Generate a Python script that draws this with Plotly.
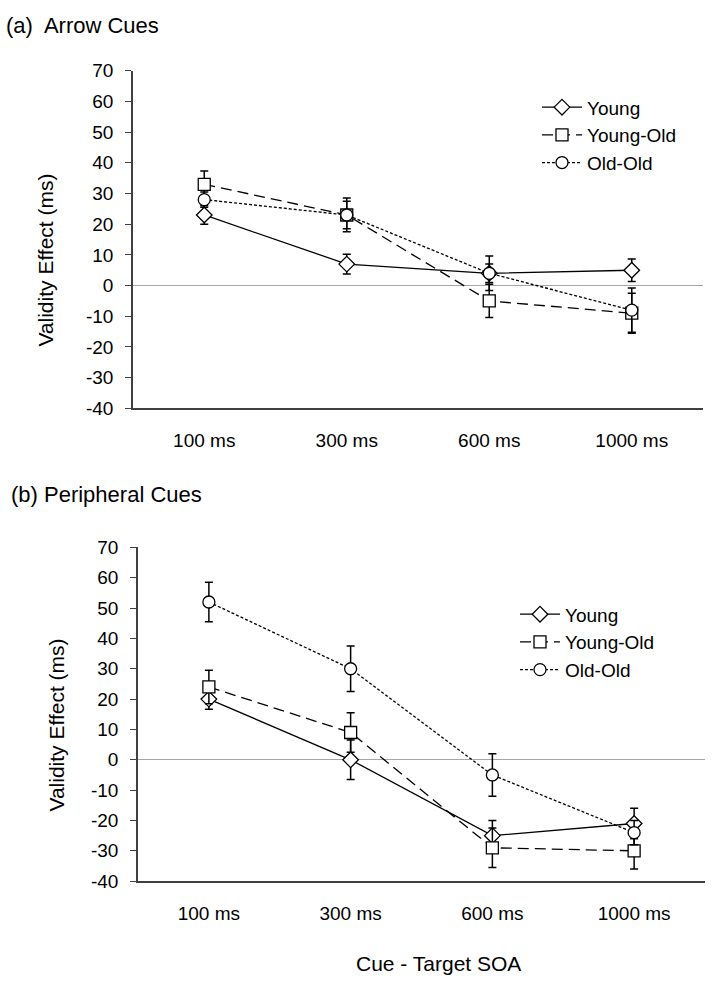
import plotly.graph_objects as go

W, H = 719, 993

categories = ["100 ms", "300 ms", "600 ms", "1000 ms"]
series_names = ["Young", "Young-Old", "Old-Old"]

# (a) Arrow cues
arrow_young = [23, 7, 4, 5]
arrow_young_err = [3, 3.2, 3, 3.7]
arrow_yo = [33, 23, -5, -9]
arrow_yo_err = [4.3, 5.5, 5.4, 6.5]
arrow_oo = [28, 23, 4, -8]
arrow_oo_err = [2.5, 4.5, 5.6, 7.2]

# (b) Peripheral cues
peri_young = [20, 0, -25, -21]
peri_young_err = [3.3, 6.5, 5, 5]
peri_yo = [24, 9, -29, -30]
peri_yo_err = [5.5, 6.5, 6.5, 6]
peri_oo = [52, 30, -5, -24]
peri_oo_err = [6.5, 7.5, 7, 4]

yticks = list(range(-40, 71, 10))
ytick_labels = [str(v) for v in yticks]

FONT = "Liberation Sans, Arial, sans-serif"
styles = {
    "Young": dict(symbol="diamond", dash="solid"),
    "Young-Old": dict(symbol="square", dash="11px,6px"),
    "Old-Old": dict(symbol="circle", dash="3px,2px"),
}

fig = go.Figure()

def add(vals, errs, name, xa, ya, legend):
    st = styles[name]
    fig.add_trace(go.Scatter(
        x=categories, y=vals, name=name, mode="lines+markers",
        xaxis=xa, yaxis=ya, legend=legend,
        line=dict(color="black", width=1.3, dash=st["dash"]),
        marker=dict(symbol=st["symbol"], size=12, color="white",
                    line=dict(color="black", width=1.3)),
        error_y=dict(type="data", array=errs, color="black",
                     thickness=1.5, width=4),
    ))

add(arrow_young, arrow_young_err, "Young", "x", "y", "legend")
add(arrow_yo, arrow_yo_err, "Young-Old", "x", "y", "legend")
add(arrow_oo, arrow_oo_err, "Old-Old", "x", "y", "legend")
add(peri_young, peri_young_err, "Young", "x2", "y2", "legend2")
add(peri_yo, peri_yo_err, "Young-Old", "x2", "y2", "legend2")
add(peri_oo, peri_oo_err, "Old-Old", "x2", "y2", "legend2")

def px_x(p):
    return p / W

def px_y(p):
    return 1 - p / H

axis_line = "#404040"
xcommon = dict(type="category", range=[-0.5, 3.5], showgrid=False,
               zeroline=False, showline=True, linecolor=axis_line,
               linewidth=1.5, ticks="", ticklabelstandoff=14,
               tickfont=dict(family=FONT, size=19, color="black"))
ycommon = dict(range=[-40, 70], tickvals=yticks, ticktext=ytick_labels,
               showgrid=False,
               zeroline=True, zerolinecolor="#a6a6a6", zerolinewidth=1,
               showline=True, linecolor=axis_line, linewidth=1.5,
               ticks="outside", ticklen=6, tickcolor=axis_line,
               ticklabelstandoff=8,
               tickfont=dict(family=FONT, size=19, color="black"))

fig.update_layout(
    width=W, height=H,
    margin=dict(l=0, r=0, t=0, b=0),
    paper_bgcolor="white", plot_bgcolor="white",
    font=dict(family=FONT, color="black"),
    xaxis=dict(domain=[px_x(133), px_x(703)], anchor="y", **xcommon),
    yaxis=dict(domain=[px_y(407), px_y(62)], anchor="x", **ycommon),
    xaxis2=dict(domain=[px_x(138), px_x(705)], anchor="y2", **xcommon),
    yaxis2=dict(domain=[px_y(890), px_y(549)], anchor="x2", **ycommon),
    legend=dict(x=px_x(537), y=px_y(80), xanchor="left", yanchor="top",
                bgcolor="rgba(0,0,0,0)", font=dict(family=FONT, size=19),
                tracegroupgap=0, itemwidth=40),
    legend2=dict(x=px_x(515), y=px_y(598), xanchor="left", yanchor="top",
                 bgcolor="rgba(0,0,0,0)", font=dict(family=FONT, size=19),
                 tracegroupgap=0, itemwidth=40),
    annotations=[
        dict(text="(a)  Arrow Cues", x=px_x(4), y=px_y(16), xref="paper",
             yref="paper", xanchor="left", yanchor="middle", showarrow=False,
             font=dict(family=FONT, size=22)),
        dict(text="(b) Peripheral Cues", x=px_x(9), y=px_y(495), xref="paper",
             yref="paper", xanchor="left", yanchor="middle", showarrow=False,
             font=dict(family=FONT, size=22)),
        dict(text="Validity Effect (ms)", x=px_x(46), y=px_y(256), xref="paper",
             yref="paper", xanchor="center", yanchor="middle", showarrow=False,
             textangle=-90, font=dict(family=FONT, size=21)),
        dict(text="Validity Effect (ms)", x=px_x(57), y=px_y(731), xref="paper",
             yref="paper", xanchor="center", yanchor="middle", showarrow=False,
             textangle=-90, font=dict(family=FONT, size=21)),
        dict(text="Cue - Target SOA", x=px_x(438), y=px_y(974), xref="paper",
             yref="paper", xanchor="center", yanchor="middle", showarrow=False,
             font=dict(family=FONT, size=21)),
    ],
)

fig.write_html("out.html",
               config={"displayModeBar": False},
               post_script="document.body.style.margin='0';document.body.style.overflow='hidden';")
